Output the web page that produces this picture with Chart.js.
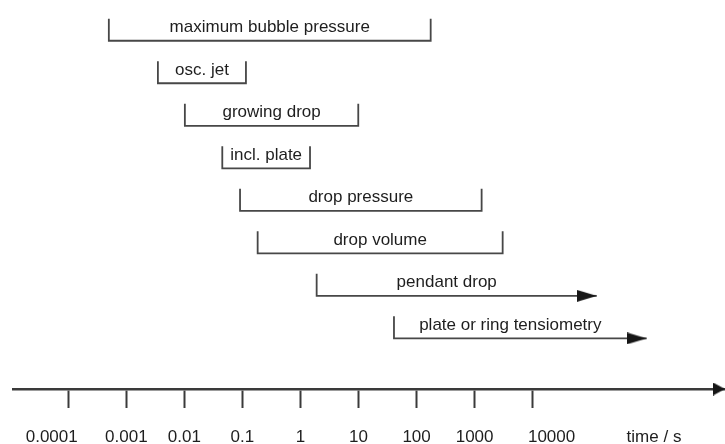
<!DOCTYPE html>
<html>
<head>
<meta charset="utf-8">
<script src="https://cdn.jsdelivr.net/npm/chart.js@4/dist/chart.umd.min.js"></script>
<style>
  html, body { margin: 0; padding: 0; background: #fff; }
  #wrap { width: 725px; height: 444px; }
</style>
</head>
<body>
<div id="wrap"><canvas id="c"></canvas></div>
<script>
// Measuring methods and the time window (s) each one covers
const methods = [
  'maximum bubble pressure',
  'osc. jet',
  'growing drop',
  'incl. plate',
  'drop pressure',
  'drop volume',
  'pendant drop',
  'plate or ring tensiometry'
];
const startTimes = [5.0e-4, 3.5e-3, 0.0102, 0.045, 0.091, 0.183, 1.9, 40.8];
const endTimes   = [175, 0.115, 9.9, 1.46, 1320, 3040, 1.27e5, 9.2e5];
const openEnded  = [false, false, false, false, false, false, true, true];

// Time axis
const tickValues = [1e-4, 1e-3, 1e-2, 1e-1, 1, 10, 100, 1000, 10000];
const tickLabels = ['0.0001', '0.001', '0.01', '0.1', '1', '10', '100', '1000', '10000'];
const axisTitle = 'time / s';

const INK = '#474747';
const HEAD = '#161616';
const TEXT = '#1e1e1e';
const FONT = "'Liberation Sans', Arial, Helvetica, sans-serif";

const xMin = Math.pow(10, -4.952);
const xMax = Math.pow(10, 7.313);
const titleAt = Math.pow(10, 6.09);
const yTop = -0.958, yAxis = 8.19;
const leg = 0.52;

// the outermost labels sit a little outside their tick marks
function labelShift(k, text) {
  if (k === 0) return text + '       ';
  if (k === tickLabels.length - 1) return '        ' + text;
  return text;
}

function arrowHead(len, h) {
  const c = document.createElement('canvas');
  c.width = len * 2; c.height = h;
  const g = c.getContext('2d');
  g.fillStyle = HEAD;
  g.beginPath();
  g.moveTo(0, 0);
  g.lineTo(len, h / 2);
  g.lineTo(0, h);
  g.closePath();
  g.fill();
  return c;
}
const barArrow = arrowHead(20, 12);
const axisArrow = arrowHead(12, 13);

const datasets = methods.map((name, i) => {
  const pts = [
    { x: startTimes[i], y: i - leg },
    { x: startTimes[i], y: i },
    { x: endTimes[i], y: i }
  ];
  if (!openEnded[i]) pts.push({ x: endTimes[i], y: i - leg });
  const last = pts.length - 1;
  return {
    label: name,
    data: pts,
    showLine: true,
    borderColor: INK,
    borderWidth: 1.8,
    tension: 0,
    clip: false,
    pointRadius: ctx => (openEnded[i] && ctx.dataIndex === last) ? 6 : 0,
    pointStyle: ctx => (openEnded[i] && ctx.dataIndex === last) ? barArrow : 'circle',
    pointBackgroundColor: HEAD,
    pointBorderWidth: 0
  };
});

// arrowhead at the end of the time axis
datasets.push({
  label: 'axis',
  data: [{ x: xMax, y: yAxis }],
  showLine: false,
  clip: false,
  pointRadius: 6,
  pointStyle: axisArrow
});

const methodLabels = {
  id: 'methodLabels',
  afterDatasetsDraw(chart) {
    const xs = chart.scales.x, ys = chart.scales.y;
    const g = chart.ctx;
    g.save();
    g.font = '17px ' + FONT;
    g.fillStyle = TEXT;
    g.textAlign = 'center';
    g.textBaseline = 'middle';
    methods.forEach((name, i) => {
      const x0 = xs.getPixelForValue(startTimes[i]);
      let x1 = xs.getPixelForValue(endTimes[i]);
      if (openEnded[i]) x1 -= 20;
      g.fillText(name, (x0 + x1) / 2, ys.getPixelForValue(i - 0.31));
    });
    g.restore();
  }
};

new Chart(document.getElementById('c'), {
  type: 'scatter',
  data: { datasets },
  plugins: [methodLabels],
  options: {
    responsive: true,
    maintainAspectRatio: false,
    animation: false,
    events: [],
    layout: { autoPadding: false, padding: { left: 13, right: 0, top: 0, bottom: -23 } },
    plugins: { legend: { display: false }, tooltip: { enabled: false } },
    scales: {
      x: {
        type: 'logarithmic',
        min: xMin,
        max: xMax,
        afterBuildTicks(scale) {
          scale.ticks = tickValues.map(v => ({ value: v })).concat([{ value: titleAt }]);
        },
        border: { display: true, color: '#3a3a3a', width: 2.6 },
        grid: {
          display: true,
          drawOnChartArea: false,
          drawTicks: true,
          tickLength: 19,
          tickWidth: 2,
          tickColor: ctx => (ctx.tick && ctx.tick.value === titleAt) ? 'rgba(0,0,0,0)' : '#3a3a3a'
        },
        ticks: {
          autoSkip: false,
          maxRotation: 0,
          minRotation: 0,
          padding: 21,
          color: TEXT,
          font: { family: FONT, size: 17, lineHeight: 1 },
          callback(value) {
            if (value === titleAt) return axisTitle;
            const k = tickValues.indexOf(value);
            return k >= 0 ? labelShift(k, tickLabels[k]) : '';
          }
        }
      },
      y: {
        type: 'linear',
        display: false,
        reverse: true,
        min: yTop,
        max: yAxis
      }
    }
  }
});
</script>
</body>
</html>
